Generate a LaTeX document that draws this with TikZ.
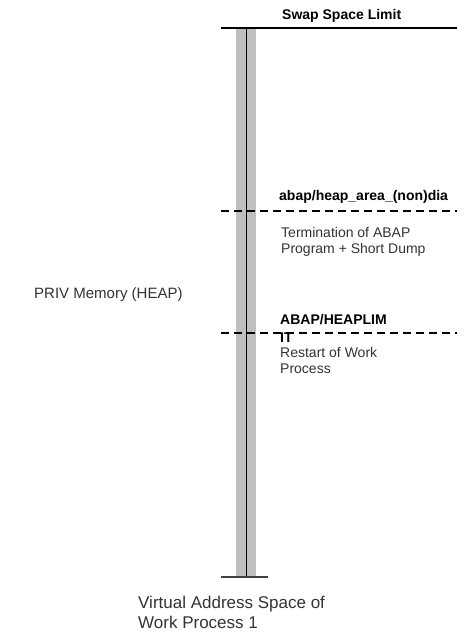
\documentclass[tikz,border=0pt]{standalone}
\usepackage{fontspec}
\setmainfont{Liberation Sans}
\begin{document}
\begin{tikzpicture}[x=1pt,y=-1pt,
  lbl/.style={anchor=base west,inner sep=0pt,font=\fontsize{14}{16}\selectfont},
  blbl/.style={lbl,font=\fontsize{14}{18}\selectfont\bfseries},
  limitline/.style={line width=2.4pt,black},
  dashline/.style={line width=2.4pt,black,dash pattern=on 8pt off 5pt},
  textcol/.style={text=black!80}]
\useasboundingbox (0,0) rectangle (474,643);
% bar
\fill[gray!50] (236,28) rectangle (256,577);
\draw[line width=0.9pt,black] (246,28) -- (246,577);
% texts
\node[blbl] (swap) at (282,19) {Swap Space Limit};
\node[blbl] (heaparea) at (279,200) {abap/heap\_area\_(non)dia};
\node[lbl,textcol] (term1) at (281,237) {Termination of ABAP};
\node[lbl,textcol] (term2) at (281,253) {Program + Short Dump};
\node[blbl] (hlim1) at (280,324) {ABAP/HEAPLIM};
\node[blbl] (hlim2) at (280,342) {IT};
\node[lbl,textcol] (rest1) at (280,357) {Restart of Work};
\node[lbl,textcol] (rest2) at (280,373) {Process};
\node[lbl,textcol,font=\fontsize{15}{18}\selectfont] (priv) at (34,298) {PRIV Memory (HEAP)};
\node[lbl,textcol,font=\fontsize{17}{20}\selectfont] (va1) at (138,608) {Virtual Address Space of};
\node[lbl,textcol,font=\fontsize{17}{20}\selectfont] (va2) at (138,628) {Work Process 1};
% lines
\coordinate (tl) at (221,28);
\coordinate (tr) at (457,28);
\draw[limitline] (tl) -- (tr);
\coordinate (bl) at (221,577);
\coordinate (br) at (268,577);
\draw[line width=1.4pt,black!75] (bl) -- (br);
\coordinate (d1l) at (221,211);
\coordinate (d1r) at (457,211);
\draw[dashline] (d1l) -- (d1r);
\coordinate (d2l) at (221,333);
\coordinate (d2r) at (457,333);
\draw[dashline] (d2l) -- (d2r);
\end{tikzpicture}
\end{document}
